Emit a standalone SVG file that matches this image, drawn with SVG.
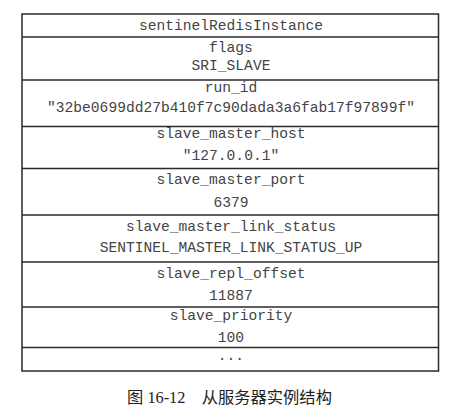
<svg xmlns="http://www.w3.org/2000/svg" width="462" height="417" viewBox="0 0 462 417">
<style>
.cell{fill:#fff;stroke:#2a2a2a;stroke-width:1.5}
.t{font-family:"Liberation Mono","Courier New",monospace;font-size:14.6px;fill:#444;text-anchor:middle}
.cap{font-family:"Liberation Serif","Noto Sans CJK SC",serif;font-size:16.3px;fill:#222;text-anchor:middle}
</style>
<rect width="462" height="417" fill="#fff"/>
<g id="struct">
<rect class="cell" x="22" y="14" width="416.5" height="357"/>
</g>
<g id="connectors">
<line class="cell" x1="22" y1="37" x2="438.5" y2="37"/>
<line class="cell" x1="22" y1="80" x2="438.5" y2="80"/>
<line class="cell" x1="22" y1="126.5" x2="438.5" y2="126.5"/>
<line class="cell" x1="22" y1="168.5" x2="438.5" y2="168.5"/>
<line class="cell" x1="22" y1="215" x2="438.5" y2="215"/>
<line class="cell" x1="22" y1="262" x2="438.5" y2="262"/>
<line class="cell" x1="22" y1="307" x2="438.5" y2="307"/>
<line class="cell" x1="22" y1="347.5" x2="438.5" y2="347.5"/>
</g>
<g id="title"><text class="t" x="231" y="29.5">sentinelRedisInstance</text></g>
<g id="flags"><text class="t" x="231" y="51.5">flags</text><text class="t" x="231" y="70">SRI_SLAVE</text></g>
<g id="run_id"><text class="t" x="231" y="92">run_id</text><text class="t" x="231" y="112">"32be0699dd27b410f7c90dada3a6fab17f97899f"</text></g>
<g id="slave_master_host"><text class="t" x="231" y="137.5">slave_master_host</text><text class="t" x="231" y="160">"127.0.0.1"</text></g>
<g id="slave_master_port"><text class="t" x="231" y="183.5">slave_master_port</text><text class="t" x="231" y="206.5">6379</text></g>
<g id="slave_master_link_status"><text class="t" x="231" y="230.5">slave_master_link_status</text><text class="t" x="231" y="252">SENTINEL_MASTER_LINK_STATUS_UP</text></g>
<g id="slave_repl_offset"><text class="t" x="231" y="277.5">slave_repl_offset</text><text class="t" x="231" y="299.5">11887</text></g>
<g id="slave_priority"><text class="t" x="231" y="319.5">slave_priority</text><text class="t" x="231" y="341.5">100</text></g>
<g id="more"><text class="t" x="231" y="360">...</text></g>
<text class="cap" x="229.5" y="403">图 16-12　从服务器实例结构</text>
</svg>
